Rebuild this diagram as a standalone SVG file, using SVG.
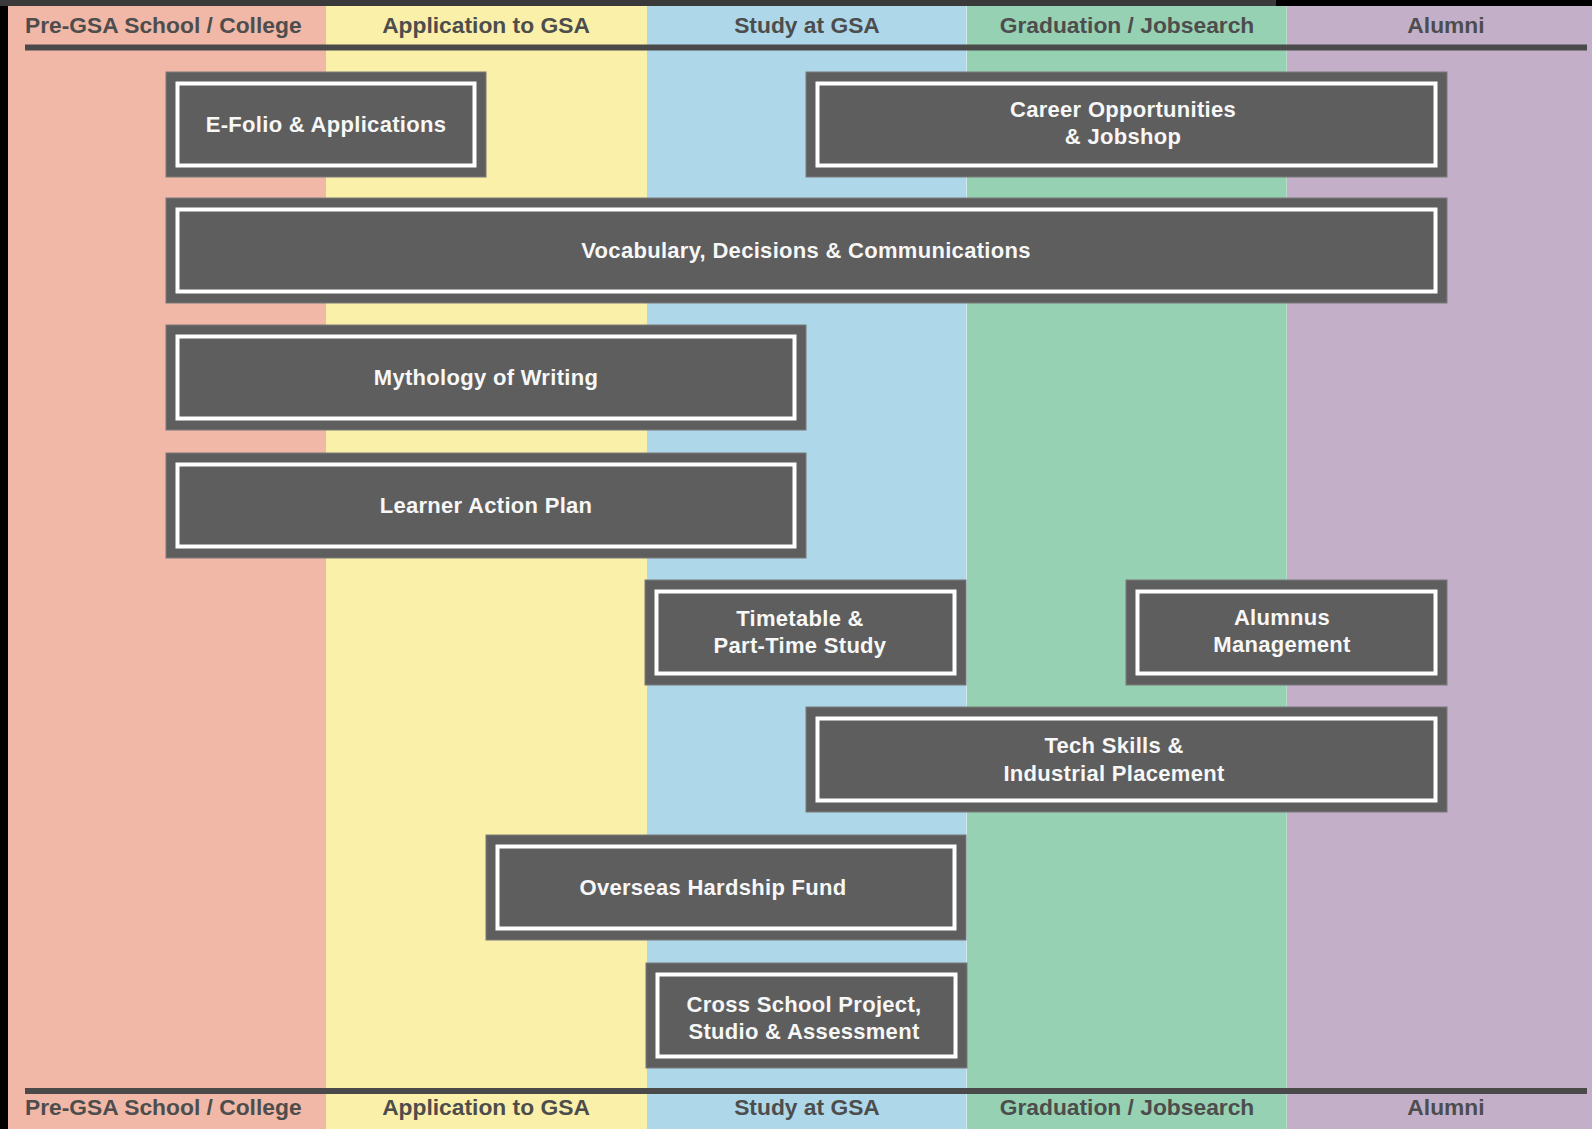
<svg xmlns="http://www.w3.org/2000/svg" width="1592" height="1129" viewBox="0 0 1592 1129">
<style>
.hdr{font-family:"Liberation Sans",Arial,Helvetica,sans-serif;font-weight:bold;font-size:22.8px;fill:#4d4d4d}
.lbl{font-family:"Liberation Sans",Arial,Helvetica,sans-serif;font-weight:bold;font-size:22px;letter-spacing:0.3px;fill:#f7f7f7;text-anchor:middle}
.outer{fill:#5e5e5e;stroke:#7a7a7a;stroke-width:1}
.inner{fill:none;stroke:#ffffff;stroke-width:4}
.rule{fill:#4a4a4a}
</style>
<g id="background">
<rect x="0" y="0" width="1592" height="1129" fill="#000"/>
<rect x="0" y="0" width="1276" height="6" fill="#3a3a3a"/>
<rect x="8" y="6" width="318" height="1123" fill="#f1b8a7"/>
<rect x="326" y="6" width="321" height="1123" fill="#fbf0a9"/>
<rect x="647" y="6" width="320" height="1123" fill="#aed7ea"/>
<rect x="967" y="6" width="320" height="1123" fill="#96d1b3"/>
<rect x="1287" y="6" width="305" height="1123" fill="#c3afc8"/>
<rect x="966" y="6" width="1" height="1123" fill="#e2f1ef" opacity="0.7"/>
<rect x="1286" y="6" width="1" height="1123" fill="#d8e8e0" opacity="0.5"/>
</g>
<g id="header">
<text class="hdr" x="25" y="33">Pre-GSA School / College</text>
<text class="hdr" x="486" y="33" text-anchor="middle">Application to GSA</text>
<text class="hdr" x="807" y="33" text-anchor="middle">Study at GSA</text>
<text class="hdr" x="1127" y="33" text-anchor="middle">Graduation / Jobsearch</text>
<text class="hdr" x="1446" y="33" text-anchor="middle">Alumni</text>
<rect class="rule" x="25" y="44.5" width="1562" height="6"/>
</g>
<g id="footer">
<rect class="rule" x="25" y="1088" width="1562" height="6"/>
<text class="hdr" x="25" y="1114.5">Pre-GSA School / College</text>
<text class="hdr" x="486" y="1114.5" text-anchor="middle">Application to GSA</text>
<text class="hdr" x="807" y="1114.5" text-anchor="middle">Study at GSA</text>
<text class="hdr" x="1127" y="1114.5" text-anchor="middle">Graduation / Jobsearch</text>
<text class="hdr" x="1446" y="1114.5" text-anchor="middle">Alumni</text>
</g>
<g id="connectors"></g>
<g id="node-efolio">
<rect class="outer" x="166" y="72" width="320" height="105"/>
<rect class="inner" x="177.5" y="83.5" width="297" height="82"/>
<text class="lbl" x="326" y="132">E-Folio &amp; Applications</text>
</g>
<g id="node-career">
<rect class="outer" x="806" y="72" width="641" height="105"/>
<rect class="inner" x="817.5" y="83.5" width="618" height="82"/>
<text class="lbl" x="1123" y="117">Career Opportunities</text>
<text class="lbl" x="1123" y="144">&amp; Jobshop</text>
</g>
<g id="node-vocabulary">
<rect class="outer" x="166" y="198" width="1281" height="105"/>
<rect class="inner" x="177.5" y="209.5" width="1258" height="82"/>
<text class="lbl" x="806" y="258">Vocabulary, Decisions &amp; Communications</text>
</g>
<g id="node-mythology">
<rect class="outer" x="166" y="325" width="640" height="105"/>
<rect class="inner" x="177.5" y="336.5" width="617" height="82"/>
<text class="lbl" x="486" y="385">Mythology of Writing</text>
</g>
<g id="node-learner">
<rect class="outer" x="166" y="453" width="640" height="105"/>
<rect class="inner" x="177.5" y="464.5" width="617" height="82"/>
<text class="lbl" x="486" y="513">Learner Action Plan</text>
</g>
<g id="node-timetable">
<rect class="outer" x="645" y="580" width="321" height="105"/>
<rect class="inner" x="656.5" y="591.5" width="298" height="82"/>
<text class="lbl" x="800" y="625.5">Timetable &amp;</text>
<text class="lbl" x="800" y="653">Part-Time Study</text>
</g>
<g id="node-alumnus">
<rect class="outer" x="1126" y="580" width="321" height="105"/>
<rect class="inner" x="1137.5" y="591.5" width="298" height="82"/>
<text class="lbl" x="1282" y="624.5">Alumnus</text>
<text class="lbl" x="1282" y="651.5">Management</text>
</g>
<g id="node-tech">
<rect class="outer" x="806" y="707" width="641" height="105"/>
<rect class="inner" x="817.5" y="718.5" width="618" height="82"/>
<text class="lbl" x="1114" y="752.5">Tech Skills &amp;</text>
<text class="lbl" x="1114" y="780.5">Industrial Placement</text>
</g>
<g id="node-overseas">
<rect class="outer" x="486" y="835" width="480" height="105"/>
<rect class="inner" x="497.5" y="846.5" width="457" height="82"/>
<text class="lbl" x="713" y="895">Overseas Hardship Fund</text>
</g>
<g id="node-cross">
<rect class="outer" x="646" y="963" width="321" height="105"/>
<rect class="inner" x="657.5" y="974.5" width="298" height="82"/>
<text class="lbl" x="804" y="1011.5">Cross School Project,</text>
<text class="lbl" x="804" y="1038.5">Studio &amp; Assessment</text>
</g>
</svg>
